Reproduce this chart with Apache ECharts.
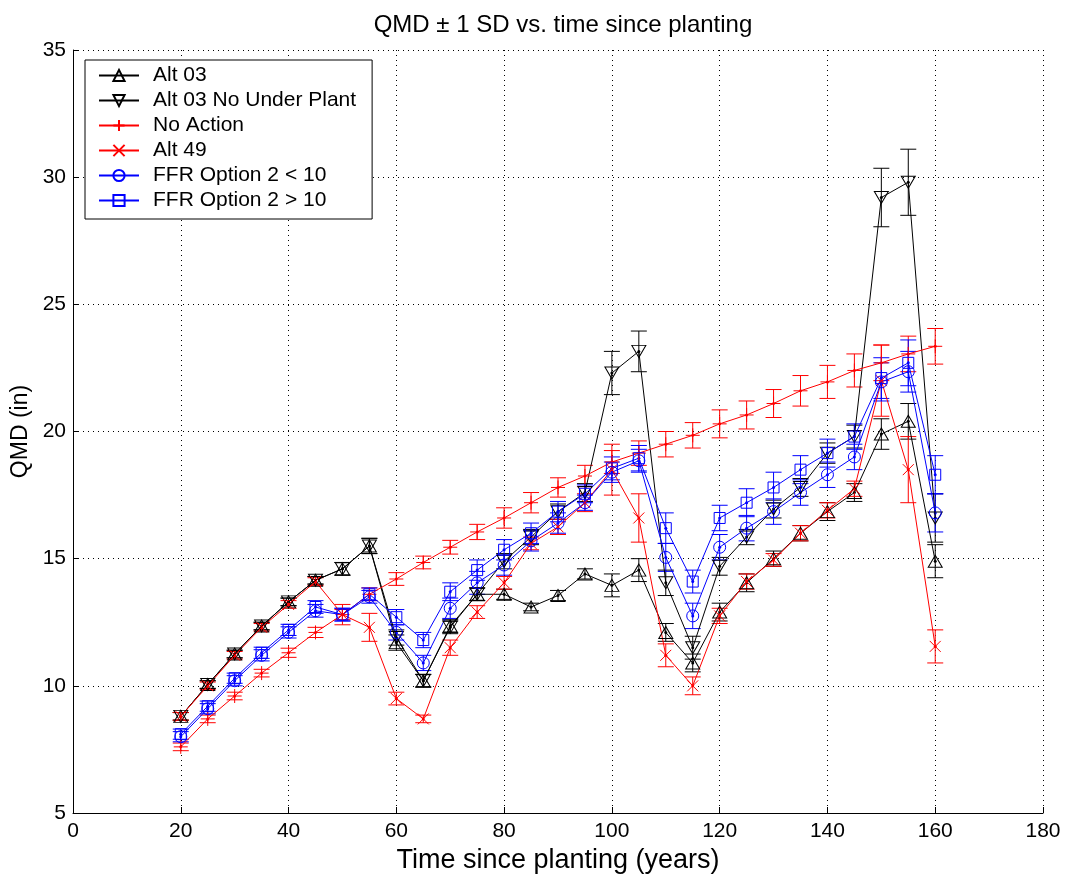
<!DOCTYPE html>
<html>
<head>
<meta charset="utf-8">
<script src="https://cdn.jsdelivr.net/npm/echarts@6/dist/echarts.min.js"></script>
<style>html,body{margin:0;padding:0;background:#fff}#c{width:1066px;height:879px}</style>
</head>
<body>
<div id="c"></div>
<script>
const years = [20,25,30,35,40,45,50,55,60,65,70,75,80,85,90,95,100,105,110,115,120,125,130,135,140,145,150,155,160];

const alt03      = [8.8,10.05,11.25,12.35,13.3,14.15,14.6,15.5,11.7,10.2,12.35,13.6,13.6,13.1,13.55,14.4,13.95,14.55,12.1,10.9,12.9,14.05,15.0,16.0,16.85,17.6,19.9,20.4,14.9];
const alt03SD    = [0.15,0.15,0.15,0.15,0.15,0.15,0.25,0.3,0.3,0.25,0.25,0.25,0.2,0.15,0.2,0.2,0.45,0.45,0.35,0.35,0.35,0.35,0.3,0.3,0.35,0.35,0.6,0.7,0.65];

const alt03NUP   = [8.8,10.05,11.25,12.35,13.3,14.15,14.6,15.5,11.9,10.2,12.3,13.6,14.9,15.85,16.85,17.6,22.3,23.15,14.05,11.5,14.7,15.85,16.95,17.8,19.15,19.8,29.2,29.8,16.6];
const alt03NUPSD = [0.15,0.15,0.15,0.15,0.15,0.15,0.25,0.3,0.3,0.25,0.25,0.25,0.3,0.3,0.3,0.35,0.85,0.8,0.5,0.45,0.35,0.3,0.35,0.35,0.4,0.45,1.15,1.3,0.95];

const noAction   = [7.6,8.7,9.6,10.5,11.3,12.1,12.8,13.6,14.2,14.85,15.45,16.05,16.6,17.2,17.8,18.25,18.8,19.15,19.5,19.85,20.3,20.65,21.1,21.6,21.95,22.4,22.7,23.05,23.35];
const noActionSD = [0.15,0.15,0.15,0.15,0.18,0.2,0.2,0.25,0.25,0.25,0.27,0.3,0.4,0.4,0.38,0.42,0.45,0.48,0.5,0.5,0.55,0.55,0.55,0.6,0.65,0.65,0.7,0.7,0.7];

const alt49      = [8.8,10.0,11.2,12.3,13.2,14.1,12.8,12.3,9.5,8.7,11.5,12.9,14.05,15.6,16.25,17.2,18.5,16.6,11.2,10.0,12.75,14.1,14.95,16.0,16.9,17.75,22.0,18.5,11.55];
const alt49SD    = [0.15,0.15,0.15,0.15,0.15,0.15,0.4,0.55,0.25,0.15,0.3,0.25,0.25,0.25,0.3,0.35,1.0,0.95,0.45,0.35,0.3,0.3,0.25,0.3,0.3,0.3,1.4,1.3,0.65];

const ffrLT10    = [8.0,9.1,10.2,11.2,12.1,12.95,12.8,13.5,12.1,10.9,13.05,14.05,14.75,15.7,16.4,17.2,18.4,18.85,15.05,12.75,15.45,16.2,16.85,17.6,18.3,19.0,21.95,22.35,16.8];
const ffrLT10SD  = [0.2,0.2,0.2,0.22,0.22,0.25,0.25,0.25,0.3,0.3,0.4,0.45,0.4,0.4,0.4,0.3,0.4,0.45,0.55,0.5,0.5,0.5,0.5,0.5,0.5,0.5,0.75,0.8,0.75];

const ffrGT10    = [8.1,9.2,10.3,11.3,12.2,13.1,12.8,13.6,12.7,11.8,13.7,14.55,15.35,16.0,16.85,17.55,18.55,18.95,16.2,14.1,16.6,17.2,17.8,18.5,19.15,19.8,22.1,22.7,18.3];
const ffrGT10SD  = [0.2,0.2,0.2,0.22,0.22,0.25,0.25,0.25,0.3,0.3,0.35,0.4,0.4,0.4,0.4,0.35,0.45,0.5,0.6,0.45,0.5,0.55,0.6,0.55,0.55,0.5,0.8,0.9,0.75];

const seriesNames = ['Alt 03','Alt 03 No Under Plant','No Action','Alt 49','FFR Option 2 < 10','FFR Option 2 > 10'];
const xTicks = {min:0, max:180, interval:20};
const yTicks = {min:5, max:35, interval:5};

const FONT = "'Liberation Sans', Arial, sans-serif";
const sets = [
  {name: seriesNames[0], v: alt03, sd: alt03SD, color:'#000000', symbol:'path://M5,0L10,9L0,9Z', size:[14,12]},
  {name: seriesNames[1], v: alt03NUP, sd: alt03NUPSD, color:'#000000', symbol:'path://M0,0L10,0L5,9Z', size:[14,12]},
  {name: seriesNames[2], v: noAction, sd: noActionSD, color:'#ff0000', symbol:'path://M0,5L10,5M5,0L5,10', size:[14,14]},
  {name: seriesNames[3], v: alt49, sd: alt49SD, color:'#ff0000', symbol:'path://M0,0L10,10M0,10L10,0', size:[11,11]},
  {name: seriesNames[4], v: ffrLT10, sd: ffrLT10SD, color:'#0000ff', symbol:'circle', size:[12,12]},
  {name: seriesNames[5], v: ffrGT10, sd: ffrGT10SD, color:'#0000ff', symbol:'rect', size:[11,11]}
];

const series = [];
sets.forEach((s, k) => {
  const col = s.color;
  series.push({
    name: 'eb' + k,
    type: 'custom',
    data: years.map((x, i) => [x, s.v[i] - s.sd[i], s.v[i] + s.sd[i], s.v[i]]),
    encode: {x: 0, y: [1, 2]},
    renderItem: function (params, api) {
      const x = api.value(0);
      const top = api.coord([x, api.value(2)]);
      const bot = api.coord([x, api.value(1)]);
      const mid = api.coord([x, api.value(3)]);
      const w = 8;
      const st = {stroke: col, lineWidth: 1, fill: null};
      return {type: 'group', children: [
        {type: 'line', shape: {x1: top[0], y1: top[1], x2: bot[0], y2: bot[1]}, style: st},
        {type: 'line', shape: {x1: top[0]-w, y1: top[1], x2: top[0]+w, y2: top[1]}, style: st},
        {type: 'line', shape: {x1: bot[0]-w, y1: bot[1], x2: bot[0]+w, y2: bot[1]}, style: st},
        {type: 'circle', shape: {cx: mid[0], cy: mid[1], r: 1.5}, style: {fill: col}}
      ]};
    },
    silent: true,
    z: 2
  });
  series.push({
    name: s.name,
    type: 'line',
    data: years.map((x, i) => [x, s.v[i]]),
    symbol: s.symbol,
    symbolSize: s.size,
    showAllSymbol: true,
    lineStyle: {color: col, width: 1},
    itemStyle: {color: 'transparent', borderColor: col, borderWidth: 1},
    emphasis: {disabled: true},
    animation: false,
    z: 2
  });
});

const chart = echarts.init(document.getElementById('c'), null, {renderer: 'canvas'});
chart.setOption({
  animation: false,
  backgroundColor: '#ffffff',
  title: {
    text: 'QMD \u00b1 1 SD vs. time since planting',
    left: 558, top: 8, textAlign: 'center',
    textStyle: {fontFamily: FONT, fontSize: 24, fontWeight: 'normal', color: '#000'}
  },
  legend: {
    data: seriesNames,
    orient: 'vertical',
    left: 85, top: 60,
    itemWidth: 40, itemHeight: 14, itemGap: 4,
    padding: [5, 16, 8, 13],
    borderColor: '#000', borderWidth: 1, borderRadius: 0,
    backgroundColor: '#fff',
    selectedMode: false,
    textStyle: {fontFamily: FONT, fontSize: 21, color: '#000', lineHeight: 21, padding: [0, 0, 0, 9]}
  },
  grid: {left: 73, right: 23, top: 50, bottom: 66, containLabel: false},
  xAxis: {
    type: 'value', min: xTicks.min, max: xTicks.max, interval: xTicks.interval,
    name: 'Time since planting (years)', nameLocation: 'middle', nameGap: 32,
    nameTextStyle: {fontFamily: FONT, fontSize: 27, color: '#000'},
    axisLine: {lineStyle: {color: '#000', width: 1}},
    axisTick: {inside: true, length: 6, lineStyle: {color: '#000'}},
    axisLabel: {fontFamily: FONT, fontSize: 21, color: '#000', margin: 8},
    splitLine: {show: true, lineStyle: {color: '#000', type: [1, 4], width: 1}}
  },
  yAxis: {
    type: 'value', min: yTicks.min, max: yTicks.max, interval: yTicks.interval,
    name: 'QMD (in)', nameLocation: 'middle', nameGap: 36,
    nameTextStyle: {fontFamily: FONT, fontSize: 23, color: '#000'},
    axisLine: {lineStyle: {color: '#000', width: 1}},
    axisTick: {inside: true, length: 6, lineStyle: {color: '#000'}},
    axisLabel: {fontFamily: FONT, fontSize: 21, color: '#000', margin: 7},
    splitLine: {show: true, lineStyle: {color: '#000', type: [1, 4], width: 1}}
  },
  series: series
});
</script>
</body>
</html>
